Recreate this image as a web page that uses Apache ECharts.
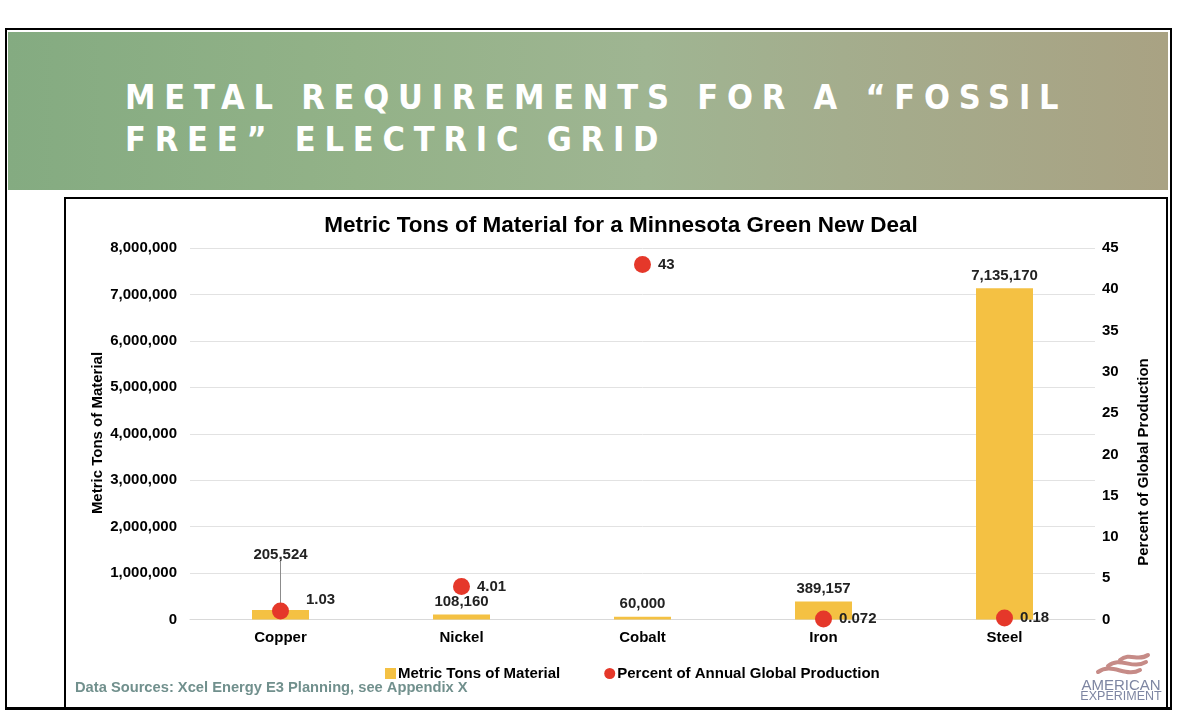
<!DOCTYPE html>
<html>
<head>
<meta charset="utf-8">
<script src="https://cdn.jsdelivr.net/npm/echarts@6/dist/echarts.min.js"></script>
<style>
  html, body { margin: 0; padding: 0; background: #fff; }
  body { width: 1192px; height: 722px; position: relative; overflow: hidden; }
  #slide { position: absolute; left: 5px; top: 28px; width: 1163px; height: 677px; border: 2px solid #000; border-bottom-width: 3px; }
  #banner { position: absolute; left: 8px; top: 32px; width: 1160px; height: 158px;
    background: linear-gradient(90deg, #84ab81 0%, #93b288 30%, #9fb592 55%, #a4ad8d 72%, #a9a283 100%); }
  #heading { position: absolute; left: 125px; top: 76px; color: #fff; font-family: "Liberation Sans Narrow", "DejaVu Sans Condensed", sans-serif;
    font-weight: bold; font-size: 34px; line-height: 42px; letter-spacing: 8.8px; white-space: nowrap; }
  #box { position: absolute; left: 64px; top: 197px; width: 1100px; height: 508px; border: 2px solid #000; background: #fff; }
  #chart { position: absolute; left: 0; top: 0; width: 1192px; height: 722px; }
</style>
</head>
<body>
<div id="slide"></div>
<div id="banner"></div>
<div id="heading">METAL REQUIREMENTS FOR A “FOSSIL<br>FREE” ELECTRIC GRID</div>
<div id="box"></div>
<div id="chart"></div>
<script>
// 数据
var categories = ['Copper', 'Nickel', 'Cobalt', 'Iron', 'Steel'];
var tonsValues = [205524, 108160, 60000, 389157, 7135170];
var percentValues = [1.03, 4.01, 43, 0.072, 0.18];
var tonsAxis = [0, 8000000, 1000000];   // min, max, interval
var percentAxis = [0, 45, 5];

var font = '"Liberation Sans", Arial, sans-serif';

var chart = echarts.init(document.getElementById('chart'));

// 铜的标签往上挪，带引线
var barData = tonsValues.map(function (v, i) {
    if (i === 0) {
        return { value: v, labelLine: { show: true, lineStyle: { color: '#8c8c8c', width: 1 } } };
    }
    return v;
});

var dotData = percentValues.map(function (v, i) {
    if (i === 0) {
        return { value: v, label: { offset: [10, -11] } };
    }
    return v;
});

var swoosh = { stroke: '#c68b87', lineWidth: 4, fill: null, lineCap: 'round' };

var option = {
    animation: false,
    textStyle: { fontFamily: font },
    title: {
        text: 'Metric Tons of Material for a Minnesota Green New Deal',
        left: 616,
        top: 209,
        textAlign: 'center',
        textStyle: { fontSize: 22.5, fontWeight: 'bold', color: '#000', fontFamily: font }
    },
    grid: { left: 190, right: 97, top: 248, bottom: 102.5 },
    legend: {
        left: 380,
        top: 661,
        itemWidth: 11,
        itemHeight: 11,
        itemGap: 44,
        textStyle: { fontSize: 15, fontWeight: 'bold', color: '#000', fontFamily: font, padding: [0, 0, 0, -3] },
        data: [
            { name: 'Metric Tons of Material', icon: 'rect' },
            { name: 'Percent of Annual Global Production', icon: 'circle' }
        ]
    },
    xAxis: {
        type: 'category',
        data: categories,
        axisTick: { show: false },
        axisLine: { lineStyle: { color: '#d9d9d9' } },
        axisLabel: { fontSize: 15, fontWeight: 'bold', color: '#000', margin: 11 }
    },
    yAxis: [
        {
            type: 'value',
            min: tonsAxis[0], max: tonsAxis[1], interval: tonsAxis[2],
            axisLabel: {
                fontSize: 15, fontWeight: 'bold', color: '#000', margin: 13,
                formatter: function (v) { return v.toLocaleString('en-US'); }
            },
            splitLine: { lineStyle: { color: '#e2e2e2' } }
        },
        {
            type: 'value',
            min: percentAxis[0], max: percentAxis[1], interval: percentAxis[2],
            axisLabel: { fontSize: 15, fontWeight: 'bold', color: '#000', margin: 7 },
            splitLine: { show: false }
        }
    ],
    graphic: [
        // 坐标轴名称
        {
            type: 'text', x: 98, y: 433, rotation: Math.PI / 2,
            style: { text: 'Metric Tons of Material', align: 'center', verticalAlign: 'middle',
                font: 'bold 15px ' + font, fill: '#000' }
        },
        {
            type: 'text', x: 1144, y: 462, rotation: Math.PI / 2,
            style: { text: 'Percent of Global Production', align: 'center', verticalAlign: 'middle',
                font: 'bold 15px ' + font, fill: '#000' }
        },
        {
            type: 'text', x: 75, y: 688,
            style: { text: 'Data Sources: Xcel Energy E3 Planning, see Appendix X', verticalAlign: 'middle',
                font: 'bold 14.7px ' + font, fill: '#71908d' }
        },
        // logo
        {
            type: 'group', x: 1122, y: 666,
            children: [
                { type: 'bezierCurve', shape: { x1: -2, y1: -6, x2: 26, y2: -11, cpx1: 8, cpy1: -14, cpx2: 16, cpy2: -4 }, style: swoosh },
                { type: 'bezierCurve', shape: { x1: -14, y1: 0, x2: 24, y2: -4, cpx1: -2, cpy1: -10, cpx2: 10, cpy2: 4 }, style: swoosh },
                { type: 'bezierCurve', shape: { x1: -24, y1: 6, x2: 18, y2: 4, cpx1: -10, cpy1: -4, cpx2: 4, cpy2: 12 }, style: swoosh },
                { type: 'text', x: -1, y: 20,
                  style: { text: 'AMERICAN', align: 'center', verticalAlign: 'middle', font: '15px ' + font, fill: '#7e86a2' } },
                { type: 'text', x: -1, y: 31,
                  style: { text: 'EXPERIMENT', align: 'center', verticalAlign: 'middle', font: '12.5px ' + font, fill: '#7e86a2' } }
            ]
        }
    ],
    series: [
        {
            name: 'Metric Tons of Material',
            type: 'bar',
            barWidth: 57,
            data: barData,
            itemStyle: { color: '#f4c143' },
            label: {
                show: true, position: 'top', distance: 5,
                fontSize: 15, fontWeight: 'bold', color: '#222',
                formatter: function (p) { return p.value.toLocaleString('en-US'); }
            },
            labelLayout: function (p) {
                if (p.dataIndex === 0) {
                    return { dy: -43 };
                }
            }
        },
        {
            name: 'Percent of Annual Global Production',
            type: 'scatter',
            yAxisIndex: 1,
            symbolSize: 17,
            data: dotData,
            itemStyle: { color: '#e5382a', opacity: 1 },
            label: {
                show: true, position: 'right', distance: 7,
                fontSize: 15, fontWeight: 'bold', color: '#222',
                formatter: function (p) { return String(p.value); }
            }
        }
    ]
};

chart.setOption(option);
</script>
</body>
</html>
